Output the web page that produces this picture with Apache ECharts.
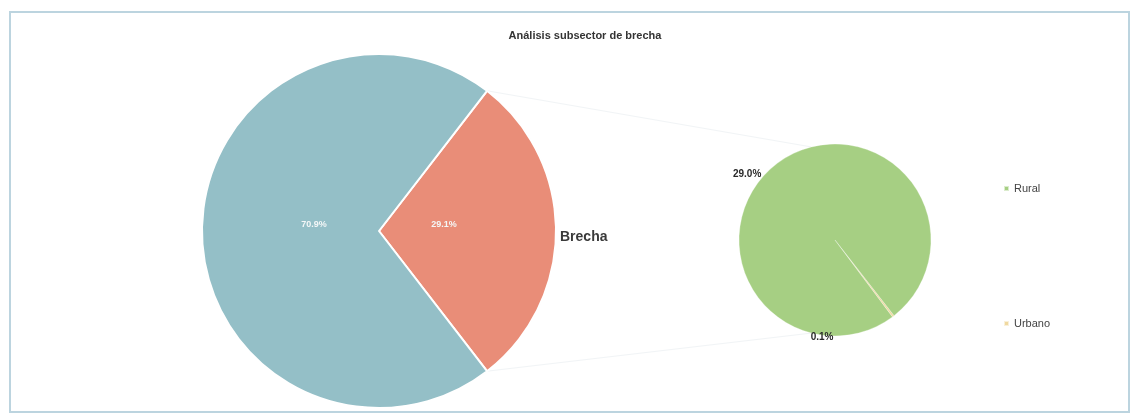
<!DOCTYPE html>
<html>
<head>
<meta charset="utf-8">
<script src="https://cdn.jsdelivr.net/npm/echarts@6/dist/echarts.min.js"></script>
<style>
  html, body { margin: 0; padding: 0; background: #ffffff; }
  #chart { width: 1137px; height: 419px; }
</style>
</head>
<body>
<div id="chart"></div>
<script>
// Main split: covered share vs. gap ("Brecha")
const mainNames = ['Brecha', 'Cubierto'];
const mainValues = [29.1, 70.9];
// Breakdown of the gap by area
const gapNames = ['Urbano', 'Rural'];
const gapValues = [0.1, 29.0];
const legendNames = ['Rural', 'Urbano'];

const titleText = 'Análisis subsector de brecha';

const colors = {
  Cubierto: '#94bfc7',
  Brecha: '#e98d78',
  Rural: '#a6cf83',
  Urbano: '#f0d9a0'
};

// Layout of the two pies
const bigCenter = [379, 231], bigR = 177;
const smallCenter = [835, 240], smallR = 96;

const bigSpan = mainValues[0] / (mainValues[0] + mainValues[1]) * 360;
const bigStart = bigSpan / 2;          // gap slice centred on the right
const smallStart = -52;                // thin urban wedge pointing down-right

const chart = echarts.init(document.getElementById('chart'));

const pct = v => v.toFixed(1) + '%';

const mainData = mainNames.map((n, i) => ({
  name: n, value: mainValues[i], itemStyle: { color: colors[n] }
}));
const gapData = gapNames.map((n, i) => ({
  name: n, value: gapValues[i], itemStyle: { color: colors[n] }
}));

// Faint connector lines from the gap slice edges to the small pie
const rad = d => d * Math.PI / 180;
const edgeTop = [bigCenter[0] + bigR * Math.cos(rad(bigStart)), bigCenter[1] - bigR * Math.sin(rad(bigStart))];
const edgeBot = [bigCenter[0] + bigR * Math.cos(rad(bigStart)), bigCenter[1] + bigR * Math.sin(rad(bigStart))];
const smallTop = [smallCenter[0] - smallR * 0.25, smallCenter[1] - smallR * 0.97];
const smallBot = [smallCenter[0] - smallR * 0.25, smallCenter[1] + smallR * 0.97];

chart.setOption({
  animation: false,
  backgroundColor: '#ffffff',
  title: {
    text: titleText,
    left: 580, top: 25, textAlign: 'center',
    textStyle: { fontSize: 11, fontWeight: 'bold', color: '#333', fontFamily: 'Liberation Sans, Arial, sans-serif' }
  },
  legend: {
    data: legendNames,
    orient: 'vertical',
    left: 998, top: 178,
    itemGap: 124,
    itemWidth: 5, itemHeight: 5,
    icon: 'rect',
    textStyle: { fontSize: 11, color: '#444', fontFamily: 'Liberation Sans Narrow, Liberation Sans, Arial, sans-serif' }
  },
  graphic: [
    { type: 'rect', shape: { x: 10, y: 12, width: 1119, height: 400 }, style: { fill: 'none', stroke: '#bcd4df', lineWidth: 2 }, silent: true },
    { type: 'line', shape: { x1: edgeTop[0], y1: edgeTop[1], x2: smallTop[0], y2: smallTop[1] }, style: { stroke: '#f1f4f6', lineWidth: 1 }, silent: true },
    { type: 'line', shape: { x1: edgeBot[0], y1: edgeBot[1], x2: smallBot[0], y2: smallBot[1] }, style: { stroke: '#f1f4f6', lineWidth: 1 }, silent: true }
  ],
  series: [
    {
      name: 'main',
      type: 'pie',
      center: bigCenter,
      radius: [0, bigR],
      startAngle: bigStart,
      clockwise: true,
      data: mainData,
      itemStyle: { borderColor: '#ffffff', borderWidth: 2 },
      label: {
        show: true,
        position: 'outside',
        formatter: p => p.name === 'Brecha' ? 'Brecha' : '',
        offset: [-7, 6],
        fontSize: 14, fontWeight: 'bold', color: '#3a3a3a',
        fontFamily: 'Liberation Sans, Arial, sans-serif'
      },
      labelLine: { show: false, length: 2, length2: 4 },
      emphasis: { disabled: true }
    },
    {
      // percentage labels of the main pie, drawn closer to the centre
      name: 'mainPct',
      type: 'pie',
      center: bigCenter,
      radius: [0, 124],
      startAngle: bigStart,
      clockwise: true,
      silent: true,
      data: mainData.map(d => ({ name: d.name, value: d.value, itemStyle: { color: 'rgba(0,0,0,0)' } })),
      label: {
        show: true, position: 'inside',
        formatter: p => pct(p.value),
        offset: [0, -6],
        fontSize: 9, fontWeight: 'bold', color: '#f4f7f7',
        fontFamily: 'Liberation Sans, Arial, sans-serif'
      },
      labelLine: { show: false },
      emphasis: { disabled: true }
    },
    {
      name: 'gap',
      type: 'pie',
      center: smallCenter,
      radius: [0, smallR],
      startAngle: smallStart,
      clockwise: true,
      data: gapData.map(d => Object.assign({}, d, {
        label: d.name === 'Rural'
          ? { offset: [-4, 14] }
          : { offset: [-94, 18] }
      })),
      itemStyle: { borderColor: 'rgba(255,255,255,0.6)', borderWidth: 0.5 },
      label: {
        show: true, position: 'outside',
        formatter: p => pct(p.value),
        fontSize: 10, fontWeight: 'bold', color: '#2a2a2a',
        fontFamily: 'Liberation Sans, Arial, sans-serif'
      },
      labelLine: { show: false, length: 4, length2: 4 },
      emphasis: { disabled: true }
    }
  ]
});
</script>
</body>
</html>
